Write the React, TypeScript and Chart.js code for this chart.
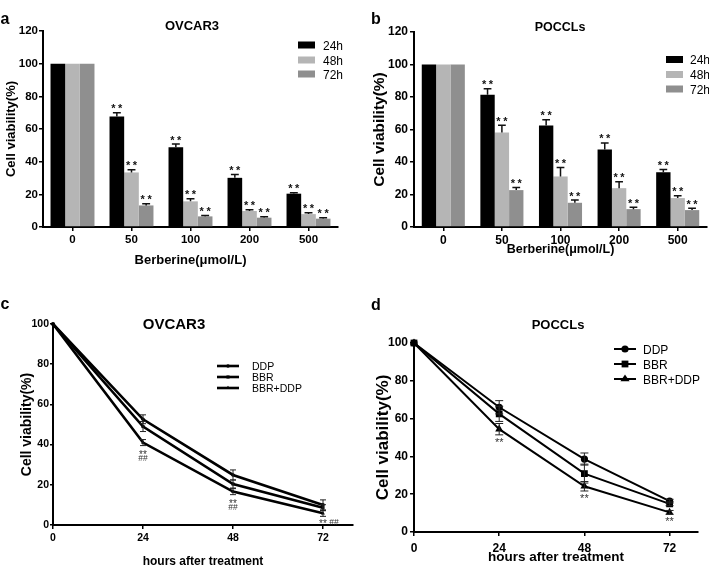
import React, { useEffect, useRef } from 'react';
import { Chart, registerables } from 'chart.js';

Chart.register(...registerables);

const FONT = '"Liberation Sans", Arial, Helvetica, sans-serif';

// ---------- Panels a / b : bar charts ----------
const doses = ['0', '50', '100', '200', '500'];
const timeSeries = ['24h', '48h', '72h'];
const barColors = ['#000000', '#b5b5b5', '#8f8f8f'];
const barTicks = [0, 20, 40, 60, 80, 100, 120];
const barSig = ['', '**', '**', '**', '**'];

const ovcar24 = [100, 67.7, 48.8, 30.1, 20.4];
const ovcar48 = [100, 33.4, 15.7, 9.8, 7.9];
const ovcar72 = [100, 13.2, 6.5, 5.7, 5.1];
const ovcar24Sd = [0, 2.2, 2.0, 2.0, 0.6];
const ovcar48Sd = [0, 1.6, 1.6, 0.8, 0.9];
const ovcar72Sd = [0, 1.1, 0.6, 0.6, 0.6];

const poccl24 = [100, 81.4, 62.4, 47.7, 33.7];
const poccl48 = [100, 58.1, 31.1, 23.9, 17.8];
const poccl72 = [100, 22.7, 14.9, 11.0, 10.4];
const poccl24Sd = [0, 3.7, 3.6, 4.0, 1.7];
const poccl48Sd = [0, 4.5, 5.5, 3.9, 1.4];
const poccl72Sd = [0, 1.6, 1.7, 1.1, 1.1];

// ---------- Panels c / d : line charts ----------
const hours = [0, 24, 48, 72];
const treatments = ['DDP', 'BBR', 'BBR+DDP'];
const pointStyles = ['circle', 'rect', 'triangle'];
const lineTicks = [0, 20, 40, 60, 80, 100];

const cDDP = [100, 52.6, 24.9, 10.0];
const cBBR = [100, 49.0, 20.4, 8.6];
const cCombo = [100, 41.0, 16.6, 5.8];
const cDDPSd = [0, 2.2, 2.5, 2.5];
const cBBRSd = [0, 2.5, 2.0, 1.5];
const cComboSd = [0, 1.5, 1.5, 1.5];
const cStars = ['', '**', '**', '**'];
const cHashes = ['', '##', '##', '##'];

const dDDP = [100, 66.0, 38.6, 16.3];
const dBBR = [100, 62.5, 30.9, 14.9];
const dCombo = [100, 54.4, 24.2, 10.4];
const dDDPSd = [0, 3.5, 3.2, 1.0];
const dBBRSd = [0, 4.0, 5.0, 1.0];
const dComboSd = [0, 3.0, 2.5, 1.0];
const dStars = ['', '**', '**', '**'];

// ---------- helpers ----------
function textAt(ctx: CanvasRenderingContext2D, text: string, x: number, cy: number, font: string, color: string, align: CanvasTextAlign = 'center') {
  ctx.font = font;
  ctx.fillStyle = color;
  ctx.textAlign = align;
  ctx.textBaseline = 'alphabetic';
  const m = ctx.measureText(text);
  const base = cy + (m.actualBoundingBoxAscent - m.actualBoundingBoxDescent) / 2;
  ctx.fillText(text, x, base);
}

function drawMarker(ctx: CanvasRenderingContext2D, style: string, x: number, y: number, r: number) {
  ctx.beginPath();
  if (style === 'circle') {
    ctx.arc(x, y, r, 0, Math.PI * 2);
  } else if (style === 'rect') {
    const s = r * Math.SQRT1_2;
    ctx.rect(x - s, y - s, 2 * s, 2 * s);
  } else {
    const h = r * 1.5;
    ctx.moveTo(x, y - r);
    ctx.lineTo(x + r * 0.866 * 1.15, y + r * 0.5);
    ctx.lineTo(x - r * 0.866 * 1.15, y + r * 0.5);
    ctx.closePath();
    void h;
  }
  ctx.fill();
}

type Legend = { x1: number; x2: number; textX: number; rows: number[]; size: number; boxH?: number };

function barDecor(sds: number[][], sig: string[], lg: Legend) {
  return {
    id: 'barDecor',
    afterDatasetsDraw(chart: any) {
      const ctx: CanvasRenderingContext2D = chart.ctx;
      const ys = chart.scales.y;
      ctx.save();
      chart.data.datasets.forEach((ds: any, i: number) => {
        const meta = chart.getDatasetMeta(i);
        meta.data.forEach((el: any, j: number) => {
          const v = ds.data[j];
          const sd = sds[i][j];
          const x = el.x;
          const yb = ys.getPixelForValue(v);
          const yt = ys.getPixelForValue(v + sd);
          if (sd > 0) {
            ctx.strokeStyle = '#111';
            ctx.lineWidth = 1.5;
            const cw = el.width * 0.27;
            ctx.beginPath();
            ctx.moveTo(x, yb);
            ctx.lineTo(x, yt);
            ctx.moveTo(x - cw, yt);
            ctx.lineTo(x + cw, yt);
            ctx.stroke();
          }
          if (sig[j]) {
            const cy = yt - 6;
            textAt(ctx, '*', x - 3.4, cy, `bold 11px ${FONT}`, '#111');
            textAt(ctx, '*', x + 3.4, cy, `bold 11px ${FONT}`, '#111');
          }
        });
      });
      // legend
      timeSeries.forEach((name, i) => {
        const cy = lg.rows[i];
        const bh = lg.boxH || 7;
        ctx.fillStyle = barColors[i];
        ctx.fillRect(lg.x1, cy - bh / 2, lg.x2 - lg.x1, bh);
        textAt(ctx, name, lg.textX, cy, `${lg.size}px ${FONT}`, '#000', 'left');
      });
      ctx.restore();
    },
  };
}

type LineAnno = { stars: string[]; hashes?: string[]; font: string; hashFont?: string; starOff: number; hashOff: number; inlineLast?: boolean; color: string };

function lineDecor(sds: number[][], radii: number[], cap: number, anno: LineAnno, lg: Legend, legendLW: number) {
  return {
    id: 'lineDecor',
    afterDatasetsDraw(chart: any) {
      const ctx: CanvasRenderingContext2D = chart.ctx;
      const ys = chart.scales.y;
      ctx.save();
      chart.data.datasets.forEach((ds: any, i: number) => {
        const meta = chart.getDatasetMeta(i);
        meta.data.forEach((el: any, j: number) => {
          const v = ds.data[j].y;
          const sd = sds[i][j];
          if (sd <= 0) return;
          const x = el.x;
          const y1 = ys.getPixelForValue(v + sd);
          const y2 = ys.getPixelForValue(v - sd);
          ctx.strokeStyle = '#222';
          ctx.lineWidth = 1;
          ctx.beginPath();
          ctx.moveTo(x, y1);
          ctx.lineTo(x, y2);
          ctx.moveTo(x - cap, y1);
          ctx.lineTo(x + cap, y1);
          ctx.moveTo(x - cap, y2);
          ctx.lineTo(x + cap, y2);
          ctx.stroke();
        });
      });
      // significance marks below the combination series
      const ci = chart.data.datasets.length - 1;
      const cmeta = chart.getDatasetMeta(ci);
      cmeta.data.forEach((el: any, j: number) => {
        const v = chart.data.datasets[ci].data[j].y;
        const eb = ys.getPixelForValue(v - sds[ci][j]);
        const last = j === cmeta.data.length - 1;
        if (anno.inlineLast && last) {
          if (anno.stars[j]) textAt(ctx, anno.stars[j], el.x, eb + anno.starOff - 2, anno.font, anno.color);
          if (anno.hashes && anno.hashes[j]) textAt(ctx, anno.hashes[j], el.x + 11, eb + anno.starOff - 1, anno.hashFont || anno.font, anno.color);
        } else {
          if (anno.stars[j]) textAt(ctx, anno.stars[j], el.x, eb + anno.starOff, anno.font, anno.color);
          if (anno.hashes && anno.hashes[j]) textAt(ctx, anno.hashes[j], el.x, eb + anno.hashOff, anno.hashFont || anno.font, anno.color);
        }
      });
      // legend
      treatments.forEach((name, i) => {
        const cy = lg.rows[i];
        ctx.strokeStyle = '#000';
        ctx.lineWidth = legendLW;
        ctx.beginPath();
        ctx.moveTo(lg.x1, cy);
        ctx.lineTo(lg.x2, cy);
        ctx.stroke();
        ctx.fillStyle = '#000';
        drawMarker(ctx, pointStyles[i], (lg.x1 + lg.x2) / 2, cy, radii[i]);
        textAt(ctx, name, lg.textX, cy, `${lg.size}px ${FONT}`, '#000', 'left');
      });
      ctx.restore();
    },
  };
}

type AxisLayout = {
  pad: { left: number; top: number; right: number; bottom: number };
  yWidth: number; xHeight: number;
  yTickFont: number; xTickFont: number;
  yTickLen: number; yTickPad: number; xTickLen: number; xTickPad: number;
  yTitleSize: number; yTitlePad: number; xTitleSize: number; xTitlePad: number;
  xTitle: string;
};

function scalesFor(L: AxisLayout, yTicks: number[], yMax: number) {
  const tickFont = (s: number) => ({ family: FONT, size: s, weight: 'bold' as const });
  return {
    x: {
      grid: { display: true, drawOnChartArea: false, offset: false, color: '#000', tickLength: L.xTickLen, lineWidth: 1.5 },
      border: { display: true, color: '#000', width: 2 },
      ticks: { color: '#000', font: tickFont(L.xTickFont), padding: L.xTickPad, maxRotation: 0, autoSkip: false },
      title: { display: true, text: L.xTitle, color: '#000', font: tickFont(L.xTitleSize), padding: { top: 0, bottom: L.xTitlePad } },
      afterFit: (s: any) => { s.height = L.xHeight; },
    },
    y: {
      min: 0,
      max: yMax,
      afterBuildTicks: (s: any) => { s.ticks = yTicks.map((v) => ({ value: v })); },
      grid: { display: true, drawOnChartArea: false, color: '#000', tickLength: L.yTickLen, lineWidth: 1.5 },
      border: { display: true, color: '#000', width: 2 },
      ticks: { color: '#000', font: tickFont(L.yTickFont), padding: L.yTickPad },
      title: { display: true, text: 'Cell viability(%)', color: '#000', font: tickFont(L.yTitleSize), padding: { top: L.yTitlePad, bottom: 0 } },
      afterFit: (s: any) => { s.width = L.yWidth; },
    },
  };
}

function barConfig(series: number[][], sds: number[][], L: AxisLayout, lg: Legend, catPct: number): any {
  return {
    type: 'bar',
    data: {
      labels: doses,
      datasets: series.map((d, i) => ({
        label: timeSeries[i],
        data: d,
        backgroundColor: barColors[i],
        borderWidth: 0,
        categoryPercentage: catPct,
        barPercentage: 1.0,
      })),
    },
    options: {
      responsive: false,
      animation: false,
      events: [],
      layout: { padding: L.pad, autoPadding: false },
      plugins: { legend: { display: false }, tooltip: { enabled: false }, title: { display: false } },
      scales: scalesFor(L, barTicks, 120),
    },
    plugins: [barDecor(sds, barSig, lg)],
  };
}

function lineConfig(series: number[][], sds: number[][], L: AxisLayout, lg: Legend, radii: number[], lw: number, cap: number, anno: LineAnno): any {
  const sc: any = scalesFor(L, lineTicks, 100);
  sc.x.type = 'linear';
  sc.x.min = 0;
  sc.x.max = 80;
  sc.x.afterBuildTicks = (s: any) => { s.ticks = hours.map((v) => ({ value: v })); };
  return {
    type: 'line',
    data: {
      datasets: series.map((d, i) => ({
        label: treatments[i],
        data: hours.map((h, k) => ({ x: h, y: d[k] })),
        borderColor: '#000',
        backgroundColor: '#000',
        borderWidth: lw,
        pointStyle: pointStyles[i],
        pointRadius: radii[i],
        pointBackgroundColor: '#000',
        pointBorderColor: '#000',
        pointBorderWidth: 0,
        tension: 0,
        clip: false,
        fill: false,
      })),
    },
    options: {
      responsive: false,
      animation: false,
      events: [],
      layout: { padding: L.pad, autoPadding: false },
      plugins: { legend: { display: false }, tooltip: { enabled: false }, title: { display: false } },
      scales: sc,
    },
    plugins: [lineDecor(sds, radii, cap, anno, lg, lw)],
  };
}

// ---------- panel configs ----------
const makeA = () =>
  barConfig(
    [ovcar24, ovcar48, ovcar72],
    [ovcar24Sd, ovcar48Sd, ovcar72Sd],
    {
      pad: { left: 0, top: 31, right: 16, bottom: 0 },
      yWidth: 43, xHeight: 63,
      yTickFont: 11.5, xTickFont: 11.5,
      yTickLen: 4, yTickPad: 1, xTickLen: 4, xTickPad: 2,
      yTitleSize: 13, yTitlePad: 4, xTitleSize: 13, xTitlePad: 22,
      xTitle: 'Berberine(μmol/L)',
    },
    { x1: 298, x2: 315, textX: 323, rows: [45, 60, 74], size: 12 },
    0.745,
  );

const makeB = () =>
  barConfig(
    [poccl24, poccl48, poccl72],
    [poccl24Sd, poccl48Sd, poccl72Sd],
    {
      pad: { left: 0, top: 32, right: 2, bottom: 0 },
      yWidth: 59, xHeight: 63,
      yTickFont: 12, xTickFont: 12,
      yTickLen: 4, yTickPad: 2, xTickLen: 4, xTickPad: 2,
      yTitleSize: 15.5, yTitlePad: 15.7, xTitleSize: 12.5, xTitlePad: 32.5,
      xTitle: 'Berberine(μmol/L)',
    },
    { x1: 311, x2: 328, textX: 335, rows: [59.5, 74.5, 89], size: 12 },
    0.735,
  );

const makeC = () =>
  lineConfig(
    [cDDP, cBBR, cCombo],
    [cDDPSd, cBBRSd, cComboSd],
    {
      pad: { left: 0, top: 34, right: 1, bottom: 0 },
      yWidth: 53, xHeight: 47,
      yTickFont: 10.5, xTickFont: 10.5,
      yTickLen: 3, yTickPad: 1, xTickLen: 4, xTickPad: 3,
      yTitleSize: 14, yTitlePad: 18.6, xTitleSize: 12, xTitlePad: 2.8,
      xTitle: 'hours after treatment',
    },
    { x1: 217, x2: 239, textX: 252, rows: [76, 87, 98], size: 10.5 },
    [1.8, 2.2, 2.2],
    2.6,
    3,
    { stars: cStars, hashes: cHashes, font: `10px ${FONT}`, hashFont: `8.5px ${FONT}`, starOff: 6.5, hashOff: 12.5, inlineLast: true, color: '#333' },
  );

const makeD = () =>
  lineConfig(
    [dDDP, dBBR, dCombo],
    [dDDPSd, dBBRSd, dComboSd],
    {
      pad: { left: 0, top: 53, right: 11, bottom: 0 },
      yWidth: 59, xHeight: 40,
      yTickFont: 12, xTickFont: 12,
      yTickLen: 4, yTickPad: 2, xTickLen: 4, xTickPad: 5,
      yTitleSize: 17, yTitlePad: 17.8, xTitleSize: 13.5, xTitlePad: 6.9,
      xTitle: 'hours after treatment',
    },
    { x1: 259, x2: 281, textX: 288, rows: [59, 74, 89], size: 12 },
    [3.6, 4.8, 4.6],
    2,
    4,
    { stars: dStars, font: `11px ${FONT}`, starOff: 5, hashOff: 0, color: '#333' },
  );

function ChartBox({ left, top, width, height, make }: { left: number; top: number; width: number; height: number; make: () => any }) {
  const ref = useRef<HTMLCanvasElement>(null);
  useEffect(() => {
    const chart = new Chart(ref.current as HTMLCanvasElement, make());
    return () => chart.destroy();
  }, []);
  return (
    <div style={{ position: 'absolute', left, top, width, height }}>
      <canvas ref={ref} width={width} height={height} style={{ display: 'block', width, height }} />
    </div>
  );
}

function Label({ text, cx, cy, size, lower }: { text: string; cx: number; cy: number; size: number; lower?: boolean }) {
  const top = cy - size * (lower ? 0.59 : 0.49);
  return (
    <div
      style={{
        position: 'absolute', left: cx - 100, top, width: 200, textAlign: 'center',
        fontFamily: FONT, fontWeight: 'bold', fontSize: size, lineHeight: `${size}px`, color: '#000', whiteSpace: 'nowrap',
      }}
    >
      {text}
    </div>
  );
}

export default function App() {
  return (
    <div style={{ position: 'absolute', left: 0, top: 0, width: 709, height: 572, background: '#fff', overflow: 'hidden' }}>
      <ChartBox left={0} top={0} width={354} height={290} make={makeA} />
      <ChartBox left={355} top={0} width={354} height={290} make={makeB} />
      <ChartBox left={0} top={290} width={354} height={282} make={makeC} />
      <ChartBox left={355} top={290} width={354} height={282} make={makeD} />
      <Label text="a" cx={5} cy={20} size={16} lower />
      <Label text="b" cx={376} cy={19} size={16} />
      <Label text="c" cx={5} cy={305} size={16} lower />
      <Label text="d" cx={376} cy={305} size={16} />
      <Label text="OVCAR3" cx={192} cy={25} size={13} />
      <Label text="POCCLs" cx={560} cy={27} size={12.5} />
      <Label text="OVCAR3" cx={174} cy={323} size={15} />
      <Label text="POCCLs" cx={558} cy={324} size={13} />
    </div>
  );
}
